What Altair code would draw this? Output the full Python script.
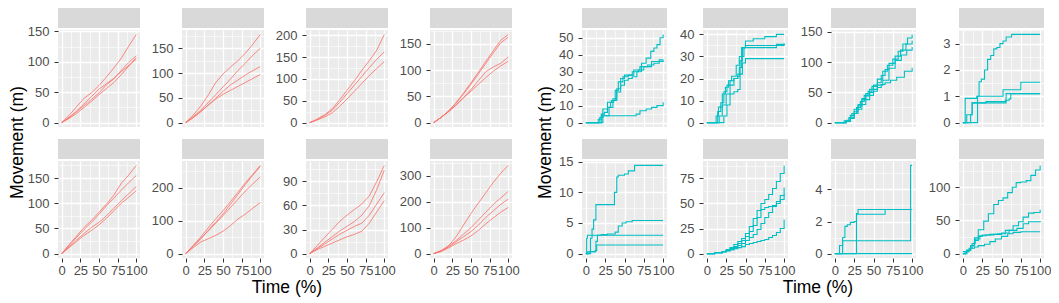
import altair as alt
import pandas as pd

# ---------------- data ----------------
X_RED = [0, 10, 20, 30, 40, 50, 60, 70, 80, 90, 100]

RED1 = [[0, 12, 26, 40, 49, 61, 75, 90, 106, 126, 145],
        [0, 9, 18, 28, 38, 49, 62, 72, 86, 99, 110],
        [0, 7, 15, 25, 35, 46, 56, 66, 79, 93, 107],
        [0, 8, 19, 31, 43, 55, 64, 73, 84, 94, 104]]
RED2 = [[0, 15, 33, 55, 80, 98, 112, 125, 140, 158, 178],
        [0, 12, 25, 40, 56, 72, 88, 105, 120, 136, 150],
        [0, 10, 22, 35, 49, 63, 76, 86, 96, 105, 113],
        [0, 10, 22, 35, 47, 57, 65, 73, 81, 89, 97]]
RED3 = [[0, 8, 18, 31, 52, 74, 96, 120, 142, 166, 202],
        [0, 7, 16, 28, 46, 66, 86, 106, 126, 145, 162],
        [0, 6, 13, 22, 37, 54, 72, 90, 108, 124, 140]]
RED4 = [[0, 10, 22, 38, 56, 76, 96, 117, 137, 157, 168],
        [0, 10, 22, 37, 55, 73, 93, 113, 133, 152, 163],
        [0, 10, 21, 34, 48, 63, 80, 97, 106, 113, 125],
        [0, 10, 21, 33, 47, 60, 73, 86, 98, 108, 117]]
RED5 = [[0, 18, 35, 52, 66, 82, 98, 116, 140, 156, 175],
        [0, 16, 32, 48, 62, 78, 95, 110, 126, 141, 155],
        [0, 13, 27, 40, 52, 62, 75, 90, 105, 119, 133],
        [0, 12, 24, 36, 46, 57, 70, 85, 100, 112, 125]]
RED6 = [[0, 25, 50, 78, 105, 130, 158, 186, 215, 241, 268],
        [0, 22, 45, 70, 95, 120, 150, 180, 210, 238, 265],
        [0, 22, 45, 68, 92, 115, 140, 165, 190, 212, 233],
        [0, 18, 35, 45, 55, 68, 85, 105, 120, 138, 155]]
RED7 = [[0, 10, 20, 30, 40, 48, 55, 62, 72, 90, 110],
        [0, 7, 14, 21, 28, 34, 40, 48, 60, 80, 104],
        [0, 6, 12, 18, 24, 29, 34, 38, 48, 62, 76],
        [0, 5, 9, 13, 17, 21, 24, 28, 38, 52, 66]]
RED8 = [[0, 12, 30, 65, 110, 155, 195, 235, 275, 310, 340],
        [0, 10, 28, 50, 75, 100, 130, 160, 190, 215, 240],
        [0, 10, 26, 45, 65, 85, 110, 140, 165, 190, 210],
        [0, 8, 22, 38, 52, 68, 90, 115, 138, 160, 178]]

RED_TICKS = [[0, 50, 100, 150], [0, 50, 100, 150], [0, 50, 100, 150, 200],
             [0, 50, 100, 150], [0, 50, 100, 150], [0, 100, 200],
             [0, 30, 60, 90], [0, 100, 200, 300]]

CYAN1_X = [[0, 12, 16, 20, 24, 28, 32, 36, 40, 45, 50, 55, 60, 66, 72, 78, 84, 88, 92, 96, 100],
           [0, 14, 18, 22, 28, 33, 38, 42, 48, 55, 62, 70, 80, 88, 95, 100],
           [0, 15, 20, 25, 30, 35, 40, 45, 50, 60, 68, 75, 85, 95, 100],
           [0, 18, 22, 60, 65, 70, 78, 85, 92, 100]]
CYAN1_Y = [[0, 0, 2, 5, 6, 9, 12, 13, 18, 22, 25, 26, 27, 30, 35, 38, 42, 44, 46, 50, 52],
           [0, 0, 3, 8, 12, 13, 19, 24, 27, 28, 31, 33, 34, 35, 36, 37],
           [0, 0, 4, 4, 9, 14, 20, 26, 28, 30, 31, 33, 36, 37, 37],
           [0, 0, 4, 4, 5, 7, 8, 9, 10, 12]]

CYAN2_X = [[0, 8, 12, 15, 20, 24, 28, 32, 38, 42, 45, 50, 60, 75, 90, 100],
           [0, 10, 14, 18, 22, 26, 30, 35, 40, 43, 46, 50, 70, 90, 100],
           [0, 12, 16, 20, 25, 30, 35, 40, 42, 45, 48, 70, 90, 100],
           [0, 18, 22, 26, 30, 35, 40, 43, 46, 50, 100]]
CYAN2_Y = [[0, 0, 3, 7, 13, 16, 19, 21, 26, 30, 34, 37, 38, 39, 40, 40],
           [0, 0, 5, 9, 14, 17, 19, 20, 22, 28, 34, 35, 35, 35.5, 36],
           [0, 0, 3, 8, 13, 17, 20, 21, 25, 30, 34, 34, 35, 35.5],
           [0, 0, 3, 8, 13, 14, 15, 22, 27, 29, 29]]

CYAN3_X = [[0, 8, 12, 18, 22, 28, 33, 38, 43, 48, 55, 62, 68, 75, 82, 88, 94, 100],
           [0, 9, 14, 20, 25, 30, 35, 40, 45, 50, 55, 60, 65, 70, 78, 85, 92, 100],
           [0, 10, 15, 20, 25, 30, 35, 40, 45, 50, 55, 62, 70, 78, 86, 93, 100],
           [0, 10, 15, 20, 25, 30, 35, 40, 45, 50, 55, 60, 65, 72, 80, 90, 100]]
CYAN3_Y = [[0, 0, 3, 8, 15, 25, 35, 45, 52, 60, 72, 85, 95, 105, 118, 130, 140, 146],
           [0, 0, 2, 7, 18, 28, 40, 48, 55, 62, 66, 78, 88, 98, 110, 120, 130, 136],
           [0, 0, 4, 12, 22, 30, 38, 44, 50, 55, 62, 70, 90, 103, 112, 120, 125],
           [0, 0, 2, 8, 15, 22, 30, 38, 45, 52, 58, 63, 66, 70, 75, 85, 91]]

CYAN4_X = [[0, 18, 19, 21, 24, 28, 32, 36, 40, 44, 48, 52, 56, 63, 100],
           [0, 3, 18, 52, 75, 100],
           [0, 5, 8, 12, 55, 56, 100],
           [0, 8, 10, 12, 30, 55, 60, 62, 100]]
CYAN4_Y = [[0, 0, 1.0, 1.55, 1.65, 2.0, 2.4, 2.55, 2.8, 2.85, 3.0, 3.1, 3.25, 3.35, 3.35],
           [0, 0.92, 1.0, 1.25, 1.53, 1.53],
           [0, 0.3, 0.3, 0.75, 0.75, 1.1, 1.1],
           [0, 0, 0.3, 0.75, 0.8, 0.85, 0.9, 1.1, 1.1]]

CYAN5_X = [[0, 3, 6, 8, 10, 13, 35, 37, 40, 42, 50, 55, 63, 100],
           [0, 4, 10, 13, 15, 20, 28, 38, 42, 47, 52, 60, 100],
           [0, 1, 2, 100],
           [0, 2, 5, 12, 14, 100]]
CYAN5_Y = [[0, 0, 2.5, 4, 5.5, 8, 8, 10, 12.5, 12.8, 13, 13.5, 14.4, 14.4],
           [0, 0.3, 0.3, 2, 3, 3.1, 3.2, 3.5, 4.5, 5, 5.2, 5.4, 5.4],
           [0, 2.5, 3, 3],
           [0, 0.3, 0.3, 0.5, 1.4, 1.4]]

CYAN6_XS = [0, 10, 20, 25, 30, 35, 40, 45, 50, 55, 60, 65, 70, 75, 80, 85, 90, 95, 100]
CYAN6_X = [CYAN6_XS, CYAN6_XS, CYAN6_XS, CYAN6_XS]
CYAN6_Y = [[0, 1, 2, 4, 6, 9, 12, 15, 20, 27, 35, 43, 50, 54, 59, 65, 72, 80, 88],
           [0, 1, 2, 3, 5, 7, 10, 13, 17, 22, 28, 36, 44, 46, 47, 48, 52, 58, 66],
           [0, 1, 2, 3, 4, 6, 8, 10, 13, 16, 19, 24, 30, 36, 41, 47, 50, 54, 59],
           [0, 1, 2, 3, 4, 5, 6, 7, 9, 10, 11, 12, 13, 14, 16, 18, 21, 25, 34]]

CYAN7_X = [[0, 10, 98, 100],
           [0, 6, 10, 13, 16, 20, 25, 28, 30, 100],
           [0, 28, 65, 100],
           [0, 100]]
CYAN7_Y = [[0, 0.8, 5.5, 5.5],
           [0, 0.5, 1.0, 1.7, 1.8, 1.95, 2.0, 2.5, 2.75, 2.75],
           [0, 2.45, 2.75, 2.75],
           [0, 0]]

CYAN8_X = [[0, 5, 10, 15, 20, 27, 33, 40, 46, 52, 58, 64, 69, 75, 82, 88, 94, 100],
           [0, 5, 10, 15, 20, 25, 35, 45, 55, 65, 72, 78, 85, 92, 100],
           [0, 3, 8, 12, 16, 22, 30, 40, 50, 60, 70, 78, 85, 100],
           [0, 5, 10, 15, 20, 28, 35, 42, 50, 58, 65, 75, 100]]
CYAN8_Y = [[0, 5, 12, 24, 36, 49, 60, 74, 80, 84, 92, 100, 107, 108, 110, 118, 126, 133],
           [0, 5, 12, 20, 26, 28, 29, 30, 35, 42, 48, 55, 61, 62, 66],
           [0, 3, 8, 15, 22, 27, 28, 29, 31, 35, 38, 45, 48, 49],
           [3, 5, 8, 10, 12, 14, 18, 22, 26, 30, 32, 33, 33]]

CYAN_TICKS = [[0, 10, 20, 30, 40, 50], [0, 10, 20, 30, 40], [0, 50, 100, 150],
              [0, 1, 2, 3], [0, 5, 10, 15], [0, 25, 50, 75], [0, 2, 4], [0, 50, 100]]

X_MAJOR = [0, 25, 50, 75, 100]
X_MINOR = [12.5, 37.5, 62.5, 87.5]

RED = "#F8766D"
CYAN = "#00BFC4"

H = 97
STRIP_TOP = -22
STRIP_BOT = -2


def make_panel(xs, ys, ticks, color, step, bottom, W):
    rows = []
    for i, (xl, yl) in enumerate(zip(xs, ys)):
        for x, y in zip(xl, yl):
            rows.append({"x": x, "y": y, "id": i})
    df = pd.DataFrame(rows)
    allv = [v for yl in ys for v in yl]
    lo, hi = min(allv), max(allv)
    pad = 0.05 * (hi - lo)
    dom = [lo - pad, hi + pad]
    st = ticks[1] - ticks[0]
    minor = [t + st / 2 for t in [ticks[0] - st] + ticks]
    minor = [m for m in minor if dom[0] <= m <= dom[1]]
    xsc = alt.Scale(domain=[-5, 105], nice=False, zero=False)
    ysc = alt.Scale(domain=dom, nice=False, zero=False)
    base = alt.Chart(df)
    grid_minor = base.mark_line(opacity=0).encode(
        x=alt.X("x:Q", scale=xsc, axis=alt.Axis(orient="top", values=X_MINOR, labels=False, ticks=False,
                                                domain=False, title=None, grid=True, gridWidth=0.6,
                                                minExtent=0, maxExtent=0)),
        y=alt.Y("y:Q", scale=ysc, axis=alt.Axis(orient="right", values=minor, labels=False, ticks=False,
                                                domain=False, title=None, grid=True, gridWidth=0.6,
                                                minExtent=0, maxExtent=0)),
        detail="id:N")
    lines = base.mark_line(color=color, strokeWidth=1.1 if step else 1.0,
                           opacity=1.0 if step else 0.85,
                           interpolate="step-after" if step else "linear").encode(
        x=alt.X("x:Q", scale=xsc, axis=alt.Axis(orient="bottom", values=X_MAJOR, labels=bottom, ticks=bottom,
                                                domain=False, title=None, grid=True, gridWidth=1.3,
                                                labelOverlap=False, labelFlush=False, labelPadding=2,
                                                format="d", minExtent=0)),
        y=alt.Y("y:Q", scale=ysc, axis=alt.Axis(orient="left", values=ticks, domain=False, title=None,
                                                grid=True, gridWidth=1.3, labelPadding=5, format="d",
                                                minExtent=0)),
        detail="id:N")
    strip = alt.Chart(pd.DataFrame({"s": [0]})).mark_rect(color="#D9D9D9").encode(
        x=alt.value(0), x2=alt.value(W), y=alt.value(STRIP_TOP), y2=alt.value(STRIP_BOT))
    return alt.layer(grid_minor, lines, strip).resolve_axis(
        x="independent", y="independent").properties(width=W, height=H)


def make_group(panels, dx, colsp, toff):
    inner = alt.concat(*panels, columns=4, spacing={"row": 9, "column": colsp}, align="each").properties(
        title=alt.TitleParams("Movement (m)", orient="left", anchor="middle", offset=toff))
    return alt.vconcat(inner).properties(
        title=alt.TitleParams("Time (%)", orient="bottom", anchor="middle", offset=2, dx=dx))


red_data = [RED1, RED2, RED3, RED4, RED5, RED6, RED7, RED8]
left_panels = [make_panel([X_RED] * len(d), d, RED_TICKS[i], RED, False, i >= 4, 82)
               for i, d in enumerate(red_data)]

cyan_x = [CYAN1_X, CYAN2_X, CYAN3_X, CYAN4_X, CYAN5_X, CYAN6_X, CYAN7_X, CYAN8_X]
cyan_y = [CYAN1_Y, CYAN2_Y, CYAN3_Y, CYAN4_Y, CYAN5_Y, CYAN6_Y, CYAN7_Y, CYAN8_Y]
right_panels = [make_panel(cyan_x[i], cyan_y[i], CYAN_TICKS[i], CYAN, True, i >= 4, 85)
                for i in range(8)]

chart = alt.hconcat(make_group(left_panels, 23, 3, 1), make_group(right_panels, 24, 5, 4),
                    spacing=17).properties(
    padding=0
).configure_view(
    fill="#EBEBEB", stroke=None
).configure_axis(
    labelFont="Liberation Sans", labelFontSize=13, labelColor="#4D4D4D",
    tickColor="#333333", tickSize=4, gridColor="white"
).configure_title(
    font="Liberation Sans", fontSize=17.5, fontWeight="normal", color="black"
)

chart.save("out.html", embed_options={"renderer": "svg", "actions": False})
